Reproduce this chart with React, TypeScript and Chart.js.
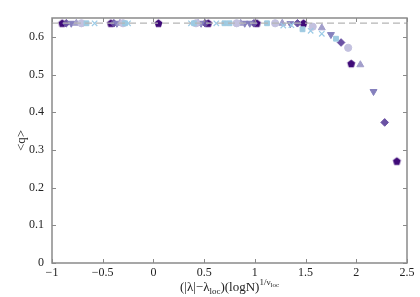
import { useEffect, useRef } from "react";
import { Chart, registerables } from "chart.js";
Chart.register(...registerables);

// ---- data ----
const refLineX = [-1, 2.5];
const refLineQ = [0.6366, 0.6366];

const xTicks = [-1, -0.5, 0, 0.5, 1, 1.5, 2, 2.5];
const xTickLabels = ["−1", "−0.5", "0", "0.5", "1", "1.5", "2", "2.5"];
const yTicks = [0, 0.1, 0.2, 0.3, 0.4, 0.5, 0.6];
const yTickLabels = ["0", "0.1", "0.2", "0.3", "0.4", "0.5", "0.6"];

const pentagonX = [-0.9, -0.42, 0.05, 0.54, 1.02, 1.48, 1.95, 2.4];
const pentagonQ = [0.636, 0.636, 0.636, 0.636, 0.636, 0.636, 0.529, 0.27];

const diamondX = [-0.86, -0.39, 0.51, 0.99, 1.42, 1.85, 2.28];
const diamondQ = [0.636, 0.636, 0.636, 0.636, 0.636, 0.585, 0.373];

const triDownX = [-0.81, -0.36, 0.47, 0.9, 0.95, 1.35, 1.75, 2.17];
const triDownQ = [0.636, 0.636, 0.636, 0.636, 0.636, 0.635, 0.606, 0.455];

const triUpX = [-0.76, -0.33, 0.44, 0.86, 1.27, 1.66, 2.04];
const triUpQ = [0.636, 0.636, 0.636, 0.636, 0.636, 0.624, 0.526];

const circleX = [-0.71, -0.3, 0.42, 0.82, 1.2, 1.57, 1.92];
const circleQ = [0.636, 0.636, 0.636, 0.636, 0.636, 0.627, 0.571];

const squareX = [-0.66, -0.28, 0.4, 0.7, 0.75, 1.12, 1.47, 1.8];
const squareQ = [0.636, 0.636, 0.636, 0.636, 0.636, 0.636, 0.62, 0.595];

const crossX = [-0.58, -0.25, 0.37, 0.62, 1.28, 1.36, 1.55, 1.66];
const crossQ = [0.636, 0.636, 0.636, 0.636, 0.63, 0.631, 0.616, 0.608];

const pts = (xs: number[], ys: number[]) => xs.map((x, i) => ({ x, y: ys[i] }));

function pentagonImage(color: string, r: number) {
  const s = Math.ceil(r * 2 + 2);
  const c = document.createElement("canvas");
  c.width = s;
  c.height = s;
  const g = c.getContext("2d")!;
  g.fillStyle = color;
  g.beginPath();
  for (let k = 0; k < 5; k++) {
    const a = -Math.PI / 2 + (k * 2 * Math.PI) / 5;
    const px = s / 2 + r * Math.cos(a);
    const py = s / 2 + 0.3 + r * Math.sin(a);
    if (k === 0) g.moveTo(px, py);
    else g.lineTo(px, py);
  }
  g.closePath();
  g.fill();
  return c;
}

const SERIF = "'Liberation Serif', 'DejaVu Serif', serif";

const framePlugin = {
  id: "frame",
  afterDraw(chart: any) {
    const { ctx, chartArea } = chart;
    const { left, right, top, bottom } = chartArea;
    const xs = chart.scales.x;
    const ys = chart.scales.y;
    ctx.save();
    ctx.strokeStyle = "#8a8a8a";
    ctx.lineWidth = 1.5;
    ctx.strokeRect(left, top, right - left, bottom - top);
    ctx.lineWidth = 1;
    ctx.beginPath();
    const tl = 4;
    xTicks.forEach((v) => {
      const p = Math.round(xs.getPixelForValue(v)) + 0.5;
      ctx.moveTo(p, bottom);
      ctx.lineTo(p, bottom - tl);
      ctx.moveTo(p, top);
      ctx.lineTo(p, top + tl);
    });
    yTicks.forEach((v) => {
      const p = Math.round(ys.getPixelForValue(v)) + 0.5;
      ctx.moveTo(left, p);
      ctx.lineTo(left + tl, p);
      ctx.moveTo(right, p);
      ctx.lineTo(right - tl, p);
    });
    ctx.stroke();

    // x-axis title with sub/superscripts
    ctx.fillStyle = "#222";
    ctx.textBaseline = "alphabetic";
    const pieces = [
      { t: "(|λ|−λ", f: 13, dy: 0 },
      { t: "loc", f: 9, dy: 3 },
      { t: ")(logN)", f: 13, dy: 0 },
      { t: "1/ν", f: 9, dy: -6 },
      { t: "loc", f: 7, dy: -4 },
    ];
    let total = 0;
    pieces.forEach((p) => {
      ctx.font = `${p.f}px ${SERIF}`;
      total += ctx.measureText(p.t).width;
    });
    let cx = (left + right) / 2 - total / 2;
    const base = 291;
    pieces.forEach((p) => {
      ctx.font = `${p.f}px ${SERIF}`;
      ctx.fillText(p.t, cx, base + p.dy);
      cx += ctx.measureText(p.t).width;
    });

    // y-axis title
    ctx.save();
    ctx.translate(22, (top + bottom) / 2);
    ctx.rotate(-Math.PI / 2);
    ctx.font = `13px ${SERIF}`;
    ctx.textAlign = "center";
    ctx.textBaseline = "middle";
    ctx.fillText("<q>", 0, 0);
    ctx.restore();
    ctx.restore();
  },
};

export default function App() {
  const ref = useRef<HTMLCanvasElement>(null);
  useEffect(() => {
    const canvas = ref.current!;
    const pent = pentagonImage("#3f0a78", 4.2);
    const mk = (label: string, data: any, color: string, style: any, radius: number, rotation = 0, extra: any = {}) => ({
      label,
      type: "scatter" as const,
      data,
      pointStyle: style,
      pointRadius: radius,
      pointBackgroundColor: color,
      pointBorderColor: color,
      pointBorderWidth: 1,
      pointRotation: rotation,
      showLine: false,
      ...extra,
    });
    const chart = new Chart(canvas, {
      type: "scatter",
      data: {
        datasets: [
          {
            label: "ref",
            type: "line",
            data: pts(refLineX, refLineQ),
            borderColor: "#b5b5b5",
            borderWidth: 1.3,
            borderDash: [7, 4],
            pointRadius: 0,
            fill: false,
          } as any,
          mk("x", pts(crossX, crossQ), "#9ccbe6", "crossRot", 3.8, 0, { pointBorderWidth: 1.2 }),
          mk("square", pts(squareX, squareQ), "#9ecae1", "rect", 3.4),
          mk("circle", pts(circleX, circleQ), "#c3c1df", "circle", 3.6),
          mk("tri", pts(triUpX, triUpQ), "#a29ecb", "triangle", 4),
          mk("tridown", pts(triDownX, triDownQ), "#8580bd", "triangle", 4, 180),
          mk("diamond", pts(diamondX, diamondQ), "#6a51a3", "rectRot", 3.8),
          mk("pentagon", pts(pentagonX, pentagonQ), "#3f0a78", pent, 4.2),
        ],
      },
      options: {
        animation: false,
        responsive: false,
        maintainAspectRatio: false,
        layout: { padding: { top: 18, right: 13, left: 0, bottom: 0 } },
        plugins: { legend: { display: false }, tooltip: { enabled: false } },
        scales: {
          x: {
            type: "linear",
            min: -1,
            max: 2.5,
            grid: { display: false, drawTicks: false },
            border: { display: false },
            afterBuildTicks: (s: any) => {
              s.ticks = xTicks.map((v) => ({ value: v }));
            },
            afterFit: (s: any) => {
              s.height = 34;
            },
            ticks: {
              padding: 3,
              color: "#222",
              font: { family: SERIF, size: 12 },
              maxRotation: 0,
              autoSkip: false,
              callback: (v: any) => {
                const i = xTicks.indexOf(Number(v));
                return i >= 0 ? xTickLabels[i] : "";
              },
            },
          },
          y: {
            type: "linear",
            min: 0,
            max: 0.65,
            grid: { display: false, drawTicks: false },
            border: { display: false },
            afterBuildTicks: (s: any) => {
              s.ticks = yTicks.map((v) => ({ value: v }));
            },
            afterFit: (s: any) => {
              s.width = 52;
            },
            ticks: {
              padding: 8,
              color: "#222",
              font: { family: SERIF, size: 12 },
              autoSkip: false,
              callback: (v: any) => {
                const i = yTicks.findIndex((t) => Math.abs(t - Number(v)) < 1e-9);
                return i >= 0 ? yTickLabels[i] : "";
              },
            },
          },
        },
      },
      plugins: [framePlugin],
    });
    return () => chart.destroy();
  }, []);
  return (
    <div style={{ position: "fixed", left: 0, top: 0, width: 420, height: 297, background: "#fff" }}>
      <canvas ref={ref} width={420} height={297} style={{ width: 420, height: 297 }} />
    </div>
  );
}
